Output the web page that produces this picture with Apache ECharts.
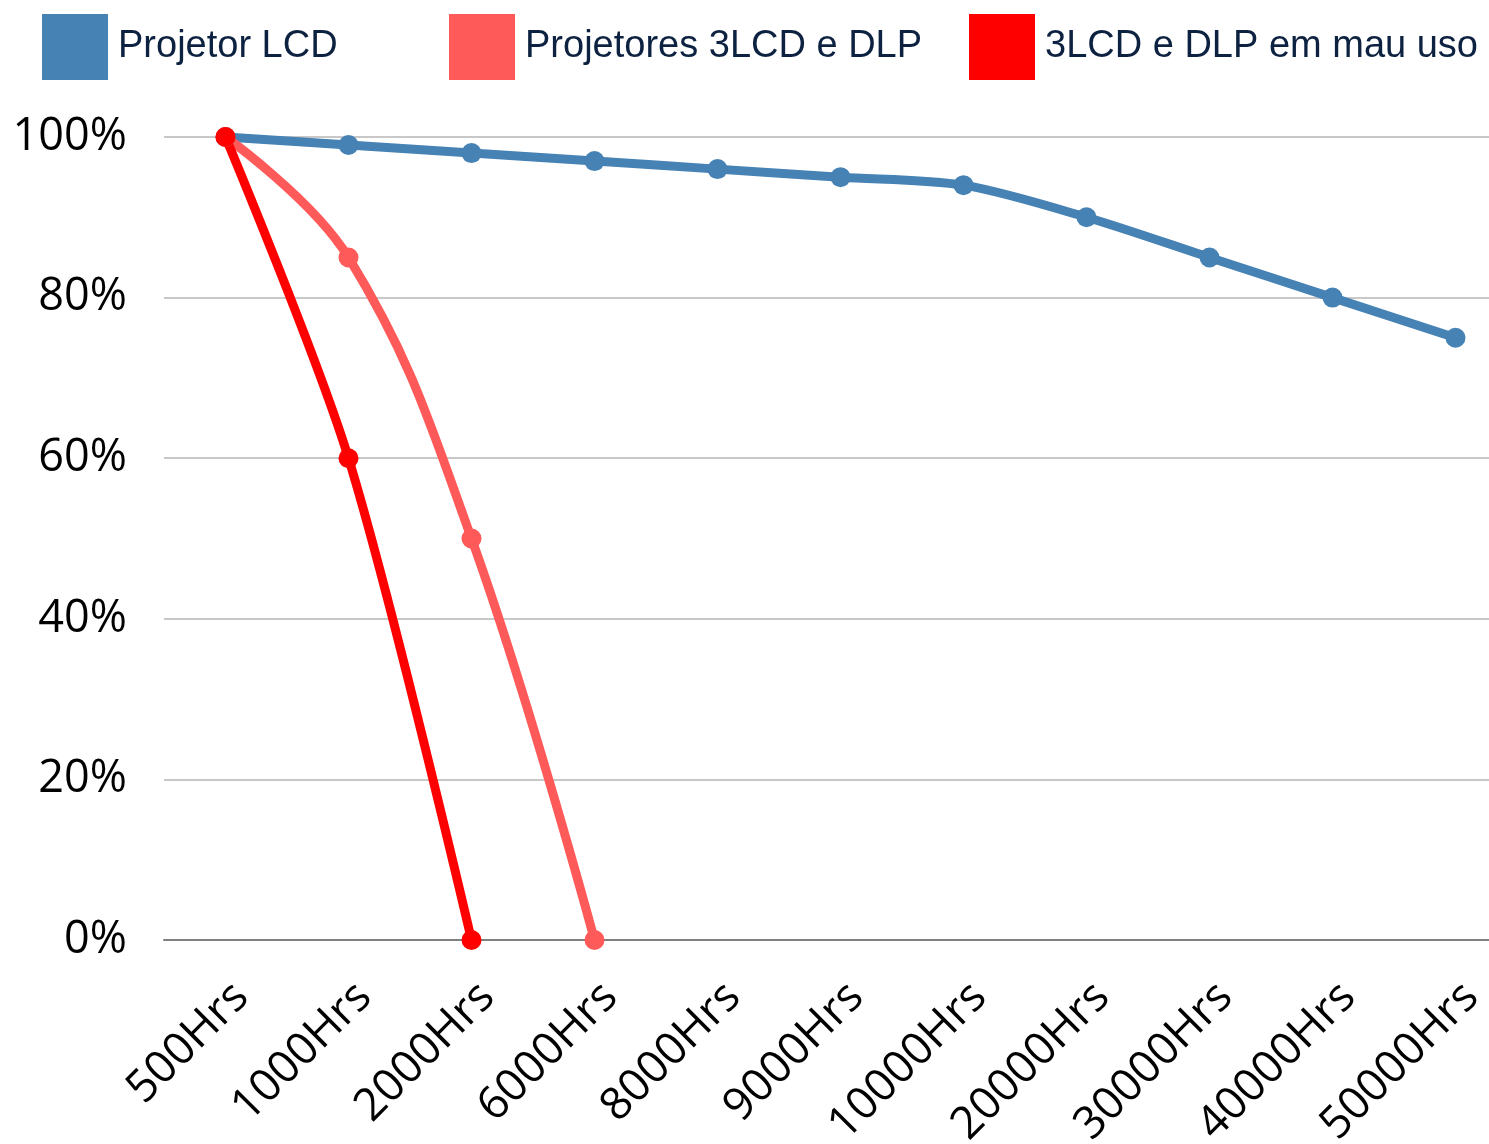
<!DOCTYPE html>
<html>
<head>
<meta charset="utf-8">
<script src="https://cdn.jsdelivr.net/npm/echarts@6/dist/echarts.min.js"></script>
<style>
  html, body { margin: 0; padding: 0; background: #fff; }
  #chart { width: 1489px; height: 1144px; }
</style>
</head>
<body>
<div id="chart"></div>
<script>
const categories = ['500Hrs', '1000Hrs', '2000Hrs', '6000Hrs', '8000Hrs', '9000Hrs', '10000Hrs', '20000Hrs', '30000Hrs', '40000Hrs', '50000Hrs'];
const lcdValues = [100, 99, 98, 97, 96, 95, 94, 90, 85, 80, 75];
const dlpValues = [100, 85, 50, 0];
const badUseValues = [100, 60, 0];
const seriesNames = ['Projetor LCD', 'Projetores 3LCD e DLP', '3LCD e DLP em mau uso'];
const colors = ['#4682b4', '#ff5a5a', '#ff0000'];

const legendText = { fontFamily: 'Liberation Sans', fontSize: 38, color: '#0d2240', padding: [0, 0, 0, 5] };
function legendFor(i, left) {
    return {
        data: [seriesNames[i]],
        left: left, top: 14, padding: 0,
        icon: 'rect', itemWidth: 66, itemHeight: 66,
        textStyle: legendText
    };
}

const chart = echarts.init(document.getElementById('chart'));
chart.setOption({
    animation: false,
    color: colors,
    legend: [legendFor(0, 42), legendFor(1, 449), legendFor(2, 969)],
    grid: { left: 164, width: 1353, top: 137, bottom: 204, outerBoundsMode: 'none', containLabel: false },
    xAxis: {
        type: 'category',
        data: categories,
        boundaryGap: true,
        axisLine: { lineStyle: { color: '#808080', width: 2 } },
        axisTick: { show: false },
        axisLabel: {
            rotate: 45, interval: 0, margin: 34, verticalAlign: 'top',
            fontFamily: 'Open Sans', fontSize: 45, color: '#000'
        }
    },
    yAxis: {
        type: 'value',
        min: 0, max: 100, interval: 20,
        axisLine: { show: false },
        axisTick: { show: false },
        axisLabel: { formatter: '{value}%', margin: 37, fontFamily: 'Open Sans', fontSize: 45, color: '#000' },
        splitLine: { lineStyle: { color: '#c8c8c8', width: 2 } }
    },
    series: [
        {
            name: seriesNames[0], type: 'line', data: lcdValues, smooth: 0.3,
            symbol: 'circle', symbolSize: 20, lineStyle: { width: 9 }
        },
        {
            name: seriesNames[1], type: 'line', data: dlpValues, smooth: 0.4,
            symbol: 'circle', symbolSize: 20, lineStyle: { width: 9 }
        },
        {
            name: seriesNames[2], type: 'line', data: badUseValues, smooth: 0.3,
            symbol: 'circle', symbolSize: 20, lineStyle: { width: 9 }
        }
    ]
});
</script>
</body>
</html>
